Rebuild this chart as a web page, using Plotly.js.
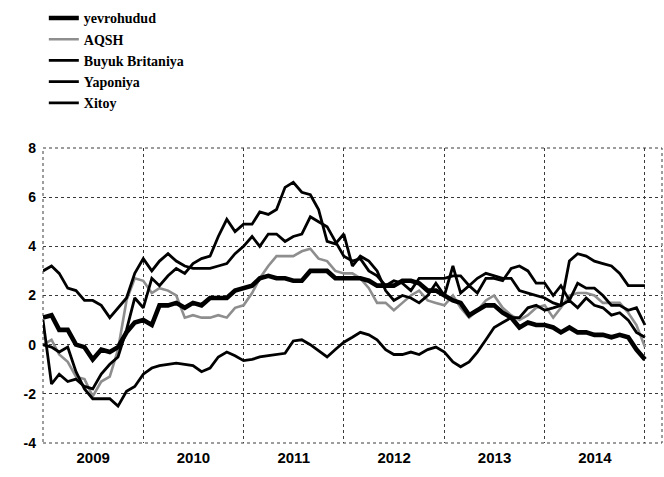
<!DOCTYPE html>
<html>
<head>
<meta charset="utf-8">
<script src="https://cdn.plot.ly/plotly-3.0.1.min.js"></script>
<style>
  html, body { margin: 0; padding: 0; background: #ffffff; }
  #chart { width: 664px; height: 477px; }
</style>
</head>
<body>
<div id="chart"></div>
<script>
// Series names (legend)
const seriesNames = ["yevrohudud", "AQSH", "Buyuk Britaniya", "Yaponiya", "Xitoy"];

// Monthly data, January 2009 - January 2015 (73 points), % y/y
const startYear = 2009;
const monthCount = 73;

const yevrohudud = [
  1.1, 1.2, 0.6, 0.6, 0.0, -0.1, -0.6, -0.2, -0.3, -0.1, 0.5, 0.9,
  1.0, 0.8, 1.6, 1.6, 1.7, 1.5, 1.7, 1.6, 1.9, 1.9, 1.9, 2.2,
  2.3, 2.4, 2.7, 2.8, 2.7, 2.7, 2.6, 2.6, 3.0, 3.0, 3.0, 2.7,
  2.7, 2.7, 2.7, 2.6, 2.4, 2.4, 2.4, 2.6, 2.6, 2.5, 2.2, 2.2,
  2.0, 1.8, 1.7, 1.2, 1.4, 1.6, 1.6, 1.3, 1.1, 0.7, 0.9, 0.8,
  0.8, 0.7, 0.5, 0.7, 0.5, 0.5, 0.4, 0.4, 0.3, 0.4, 0.3, -0.2,
  -0.6
];

const aqsh = [
  0.0, 0.2, -0.4, -0.7, -1.3, -1.4, -2.1, -1.5, -1.3, -0.2, 1.8, 2.7,
  2.6, 2.1, 2.3, 2.2, 2.0, 1.1, 1.2, 1.1, 1.1, 1.2, 1.1, 1.5,
  1.6, 2.1, 2.7, 3.2, 3.6, 3.6, 3.6, 3.8, 3.9, 3.5, 3.4, 3.0,
  2.9, 2.9, 2.7, 2.3, 1.7, 1.7, 1.4, 1.7, 2.0, 2.2, 1.8, 1.7,
  1.6, 2.0, 1.5, 1.1, 1.4, 1.8, 2.0, 1.5, 1.2, 1.0, 1.2, 1.5,
  1.6, 1.1, 1.5, 2.0, 2.1, 2.1, 2.0, 1.7, 1.7, 1.7, 1.3, 0.8,
  -0.1
];

const buyukBritaniya = [
  3.0, 3.2, 2.9, 2.3, 2.2, 1.8, 1.8, 1.6, 1.1, 1.5, 1.9, 2.9,
  3.5, 3.0, 3.4, 3.7, 3.4, 3.2, 3.1, 3.1, 3.1, 3.2, 3.3, 3.7,
  4.0, 4.4, 4.0, 4.5, 4.5, 4.2, 4.4, 4.5, 5.2, 5.0, 4.8, 4.2,
  3.6, 3.4, 3.5, 3.0, 2.8, 2.4, 2.6, 2.5, 2.2, 2.7, 2.7, 2.7,
  2.7, 2.8, 2.8, 2.4, 2.7, 2.9, 2.8, 2.7, 2.7, 2.2, 2.1, 2.0,
  1.9, 1.7, 1.6, 1.8, 1.5, 1.9, 1.6, 1.5, 1.2, 1.3, 1.0, 0.5,
  0.3
];

const yaponiya = [
  0.0, -0.1, -0.3, -0.1, -1.1, -1.8, -2.2, -2.2, -2.2, -2.5, -1.9, -1.7,
  -1.2, -0.95, -0.85, -0.8, -0.75, -0.8, -0.85, -1.1, -0.95, -0.5, -0.3, -0.45,
  -0.65, -0.6, -0.5, -0.45, -0.4, -0.35, 0.15, 0.2, 0.0, -0.25, -0.5, -0.2,
  0.1, 0.3, 0.5, 0.4, 0.2, -0.2, -0.4, -0.4, -0.3, -0.4, -0.2, -0.1,
  -0.3, -0.7, -0.9, -0.7, -0.3, 0.2, 0.7, 0.9, 1.1, 1.1, 1.5, 1.6,
  1.4, 1.5, 1.6, 3.4, 3.7, 3.6, 3.4, 3.3, 3.2, 2.9, 2.4, 2.4,
  2.4
];

const xitoy = [
  1.0, -1.6, -1.2, -1.5, -1.4, -1.7, -1.8, -1.2, -0.8, -0.5, 0.6, 1.9,
  1.5, 2.7, 2.4, 2.8, 3.1, 2.9, 3.3, 3.5, 3.6, 4.4, 5.1, 4.6,
  4.9, 4.9, 5.4, 5.3, 5.5, 6.4, 6.6, 6.2, 6.1, 5.5, 4.2, 4.1,
  4.5, 3.2, 3.6, 3.4, 3.0, 2.2, 1.8, 2.0, 1.9, 1.7, 2.0, 2.5,
  2.0, 3.2, 2.1, 2.4, 2.1, 2.7, 2.7, 2.6, 3.1, 3.2, 3.0, 2.5,
  2.5, 2.0, 2.4, 1.8, 2.5, 2.3, 2.3, 2.0, 1.6, 1.6, 1.4, 1.5,
  0.8
];

// Y axis ticks
const yTickVals = [-4, -2, 0, 2, 4, 6, 8];
const yTickText = ["-4", "-2", "0", "2", "4", "6", "8"];

// Build monthly dates
const months = [];
for (let i = 0; i < monthCount; i++) {
  const y = startYear + Math.floor(i / 12);
  const m = (i % 12) + 1;
  months.push(y + "-" + (m < 10 ? "0" + m : m) + "-01");
}

const traces = [
  { name: seriesNames[1], y: aqsh,           color: "#8e8e8e", width: 2.6, rank: 2 },
  { name: seriesNames[2], y: buyukBritaniya, color: "#000000", width: 2.8, rank: 3 },
  { name: seriesNames[3], y: yaponiya,       color: "#000000", width: 2.8, rank: 4 },
  { name: seriesNames[4], y: xitoy,          color: "#000000", width: 2.8, rank: 5 },
  { name: seriesNames[0], y: yevrohudud,     color: "#000000", width: 4.6, rank: 1 }
].map(t => ({
  type: "scatter",
  mode: "lines",
  x: months,
  y: t.y,
  name: t.name,
  legendrank: t.rank,
  line: { color: t.color, width: t.width },
  hoverinfo: "skip"
}));

const layout = {
  width: 664,
  height: 477,
  margin: { l: 43, r: 2, t: 148, b: 34, autoexpand: false },
  paper_bgcolor: "#ffffff",
  plot_bgcolor: "#ffffff",
  showlegend: true,
  legend: {
    xref: "container", yref: "container",
    x: 0.066, y: 0.995,
    xanchor: "left", yanchor: "top",
    bgcolor: "rgba(0,0,0,0)",
    borderwidth: 0,
    font: { family: "\"Liberation Serif\", serif", size: 14, color: "#000000", weight: "bold" }
  },
  xaxis: {
    type: "date",
    range: ["2009-01-01", "2015-03-04"],
    tick0: "2009-01-01",
    dtick: "M12",
    tickformat: "%Y",
    ticklabelmode: "period",
    showgrid: true,
    gridcolor: "#3a3a3a",
    griddash: "dot",
    gridwidth: 1,
    zeroline: false,
    showline: false,
    ticks: "",
    ticklabelstandoff: 4,
    tickfont: { family: "\"Liberation Sans\", sans-serif", size: 15, color: "#000000", weight: "bold" },
    fixedrange: true
  },
  yaxis: {
    range: [-4, 8],
    tickmode: "array",
    tickvals: yTickVals,
    ticktext: yTickText,
    showgrid: true,
    gridcolor: "#3a3a3a",
    griddash: "dot",
    gridwidth: 1,
    zeroline: false,
    showline: false,
    ticks: "",
    ticklabelstandoff: 6,
    tickfont: { family: "\"Liberation Sans\", sans-serif", size: 14, color: "#000000", weight: "bold" },
    fixedrange: true
  },
  shapes: [
    {
      type: "rect", xref: "paper", yref: "paper",
      x0: 0, x1: 1, y0: 0, y1: 1,
      line: { color: "#3a3a3a", width: 1, dash: "dot" },
      layer: "below"
    }
  ]
};

Plotly.newPlot("chart", traces, layout, { displayModeBar: false, staticPlot: true });
</script>
</body>
</html>
